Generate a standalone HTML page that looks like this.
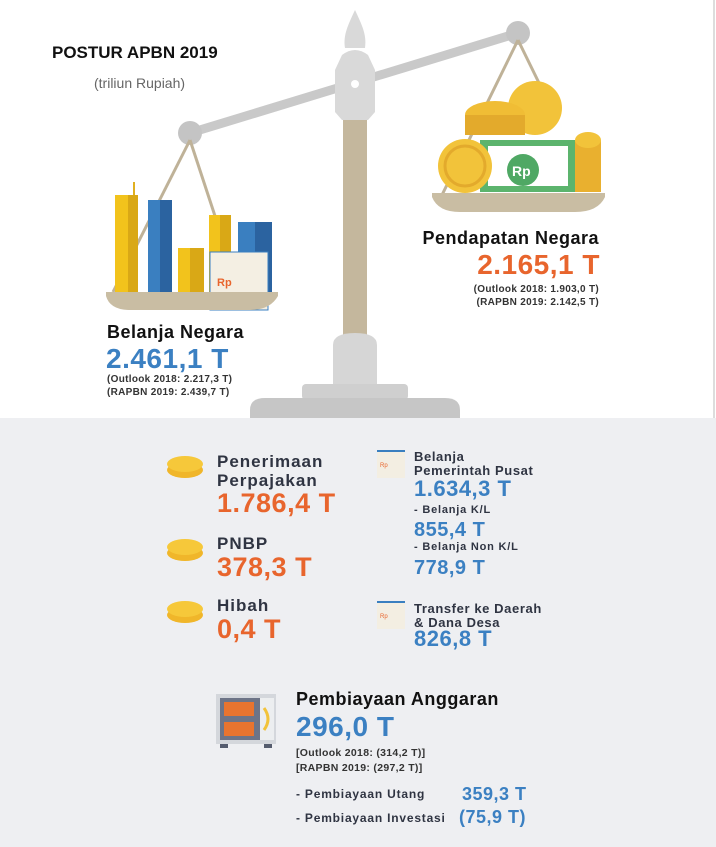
<!DOCTYPE html>
<html><head><meta charset="utf-8"><style>
body{margin:0;width:716px;height:847px;position:relative;overflow:hidden;background:#fff;font-family:"Liberation Sans",sans-serif}
.a{position:absolute;white-space:nowrap;line-height:1}
.b{font-weight:bold}
.blue{color:#3b80c2}.or{color:#e8652d}.dk{color:#2f3442}
</style></head><body>
<div class="a" style="left:0;top:418px;width:716px;height:429px;background:#eeeff2"></div>
<div class="a" style="left:713px;top:0;width:2px;height:418px;background:#ddd"></div>
<svg class="a" style="left:0;top:0" width="716" height="420">
 <!-- beam -->
 <line x1="190" y1="133" x2="518" y2="33" stroke="#c9c9c9" stroke-width="9"/>
 <circle cx="190" cy="133" r="12" fill="#c4c4c4"/>
 <circle cx="518" cy="33" r="12" fill="#c4c4c4"/>
 <!-- strings -->
 <line x1="190" y1="140" x2="113" y2="292" stroke="#bfb298" stroke-width="3"/>
 <line x1="190" y1="140" x2="240" y2="292" stroke="#bfb298" stroke-width="3"/>
 <line x1="518" y1="40" x2="442" y2="195" stroke="#bfb298" stroke-width="3"/>
 <line x1="518" y1="40" x2="540" y2="85" stroke="#bfb298" stroke-width="3"/>
 <!-- pole -->
 <rect x="343" y="115" width="24" height="230" fill="#c4b79d"/>
 <path d="M355 10 C348 25 343 35 345 48 L365 48 C367 35 362 25 355 10Z" fill="#d9d9d9"/>
 <path d="M342 55 Q355 45 368 55 L375 70 L375 112 L368 120 L342 120 L335 112 L335 70Z" fill="#d9d9d9"/>
 <circle cx="355" cy="84" r="4" fill="#fff"/>
 <path d="M333 345 Q333 333 355 333 Q377 333 377 345 L377 388 L333 388Z" fill="#d6d6d6"/>
 <rect x="302" y="384" width="106" height="16" rx="4" fill="#cfcfcf"/>
 <path d="M250 418 L250 410 Q250 398 265 398 L445 398 Q460 398 460 410 L460 418Z" fill="#c6c6c6"/>
 <!-- left buildings -->
 <rect x="115" y="195" width="22" height="97" fill="#f2c31c"/><rect x="128" y="195" width="10" height="97" fill="#d9a816"/>
 <line x1="134" y1="182" x2="134" y2="195" stroke="#e0b020" stroke-width="2"/>
 <rect x="148" y="200" width="24" height="92" fill="#3a7fc0"/><rect x="160" y="200" width="12" height="92" fill="#2b63a0"/>
 <rect x="178" y="248" width="26" height="44" fill="#f2c31c"/><rect x="190" y="248" width="14" height="44" fill="#d9a816"/>
 <rect x="209" y="215" width="22" height="77" fill="#f2c31c"/><rect x="220" y="215" width="11" height="77" fill="#d9a816"/>
 <rect x="238" y="222" width="34" height="70" fill="#3a7fc0"/><rect x="255" y="222" width="17" height="70" fill="#2b63a0"/>
 <rect x="210" y="252" width="58" height="58" fill="#f4efe3" stroke="#3a7fc0" stroke-width="1"/>
 <text x="217" y="286" font-family="Liberation Sans" font-weight="bold" font-size="11" fill="#e8652d">Rp</text>
 <path d="M106 292 L278 292 L278 296 Q270 310 250 310 L130 310 Q110 310 106 296Z" fill="#c9bda3"/>
 <!-- right coins -->
 <rect x="480" y="140" width="96" height="52" fill="#5cb46d"/><rect x="488" y="146" width="80" height="40" fill="#fff"/>
 <circle cx="523" cy="170" r="16" fill="#4fa864"/>
 <text x="512" y="176" font-family="Liberation Sans" font-weight="bold" font-size="14" fill="#fff">Rp</text>
 <circle cx="535" cy="108" r="27" fill="#f2c33a"/><ellipse cx="495" cy="115" rx="30" ry="14" fill="#f0bd35"/>
 <rect x="465" y="115" width="60" height="20" fill="#e3aa2c"/>
 <rect x="575" y="140" width="26" height="52" fill="#e9b02f"/><ellipse cx="588" cy="140" rx="13" ry="8" fill="#f2c33a"/>
 <circle cx="465" cy="166" r="27" fill="#f2c33a"/><circle cx="465" cy="166" r="20" fill="none" stroke="#e3aa2c" stroke-width="3"/>
 <path d="M432 193 L605 193 L605 197 Q598 212 575 212 L460 212 Q438 212 432 197Z" fill="#c9bda3"/>
</svg>
<div class="a b" style="left:52px;top:44px;font-size:17px;color:#111">POSTUR APBN 2019</div>
<div class="a" style="left:94px;top:76px;font-size:14px;color:#666">(triliun Rupiah)</div>
<div class="a b" style="left:107px;top:323px;font-size:18px;color:#111;letter-spacing:.5px">Belanja Negara</div>
<div class="a b blue" style="left:106px;top:345px;font-size:28px;letter-spacing:.5px">2.461,1 T</div>
<div class="a b" style="left:107px;top:373px;font-size:10px;color:#333;line-height:13px;letter-spacing:.3px">(Outlook 2018: 2.217,3 T)<br>(RAPBN 2019: 2.439,7 T)</div>
<div class="a b" style="right:117px;top:229px;font-size:18px;color:#111;letter-spacing:.5px">Pendapatan Negara</div>
<div class="a b or" style="right:116px;top:251px;font-size:28px;letter-spacing:.5px">2.165,1 T</div>
<div class="a b" style="right:117px;top:283px;font-size:10px;color:#333;line-height:13px;text-align:right;letter-spacing:.3px">(Outlook 2018: 1.903,0 T)<br>(RAPBN 2019: 2.142,5 T)</div>
<!-- coins -->
<svg class="a" style="left:165px;top:450px" width="42" height="200">
 <g fill="#f0b62a"><ellipse cx="20" cy="20" rx="18" ry="8"/><ellipse cx="20" cy="14" rx="18" ry="8" fill="#f6c83a"/>
 <ellipse cx="20" cy="103" rx="18" ry="8"/><ellipse cx="20" cy="97" rx="18" ry="8" fill="#f6c83a"/>
 <ellipse cx="20" cy="165" rx="18" ry="8"/><ellipse cx="20" cy="159" rx="18" ry="8" fill="#f6c83a"/></g>
</svg>
<div class="a b dk" style="left:217px;top:452px;font-size:17px;line-height:19px;letter-spacing:1px">Penerimaan<br>Perpajakan</div>
<div class="a b or" style="left:217px;top:490px;font-size:27px;letter-spacing:.5px">1.786,4 T</div>
<div class="a b dk" style="left:217px;top:535px;font-size:17px;letter-spacing:1px">PNBP</div>
<div class="a b or" style="left:217px;top:554px;font-size:27px;letter-spacing:.5px">378,3 T</div>
<div class="a b dk" style="left:217px;top:597px;font-size:17px;letter-spacing:1px">Hibah</div>
<div class="a b or" style="left:217px;top:616px;font-size:27px;letter-spacing:.5px">0,4 T</div>
<svg class="a" style="left:375px;top:448px" width="32" height="182">
 <rect x="2" y="2" width="28" height="28" fill="#f3eee2"/><rect x="2" y="2" width="28" height="2" fill="#3a7fc0"/>
 <text x="5" y="19" font-size="6" fill="#e8652d" font-family="Liberation Sans">Rp</text>
 <rect x="2" y="153" width="28" height="28" fill="#f3eee2"/><rect x="2" y="153" width="28" height="2" fill="#3a7fc0"/>
 <text x="5" y="170" font-size="6" fill="#e8652d" font-family="Liberation Sans">Rp</text>
</svg>
<div class="a b dk" style="left:414px;top:450px;font-size:13px;line-height:14px;letter-spacing:.6px">Belanja<br>Pemerintah Pusat</div>
<div class="a b blue" style="left:414px;top:478px;font-size:22px;letter-spacing:.5px">1.634,3 T</div>
<div class="a b dk" style="left:414px;top:505px;font-size:11px;letter-spacing:.8px">- Belanja K/L</div>
<div class="a b blue" style="left:414px;top:520px;font-size:20px;letter-spacing:.5px">855,4 T</div>
<div class="a b dk" style="left:414px;top:542px;font-size:11px;letter-spacing:.8px">- Belanja Non K/L</div>
<div class="a b blue" style="left:414px;top:558px;font-size:20px;letter-spacing:.5px">778,9 T</div>
<div class="a b dk" style="left:414px;top:602px;font-size:13px;line-height:14px;letter-spacing:.6px">Transfer ke Daerah<br>&amp; Dana Desa</div>
<div class="a b blue" style="left:414px;top:628px;font-size:22px;letter-spacing:.5px">826,8 T</div>
<!-- safe -->
<svg class="a" style="left:214px;top:692px" width="66" height="58">
 <rect x="2" y="2" width="60" height="50" fill="#d4d7dc"/><rect x="6" y="6" width="40" height="42" fill="#6d7487"/>
 <rect x="10" y="10" width="30" height="14" fill="#e8742f"/><rect x="10" y="30" width="30" height="14" fill="#e8742f"/>
 <rect x="46" y="6" width="14" height="42" fill="#eceef0"/><path d="M50 16 Q58 27 50 38" stroke="#f2c33a" stroke-width="3" fill="none"/>
 <rect x="6" y="52" width="8" height="4" fill="#555c6e"/><rect x="50" y="52" width="8" height="4" fill="#555c6e"/>
</svg>
<div class="a b" style="left:296px;top:690px;font-size:18px;color:#111;letter-spacing:.5px">Pembiayaan Anggaran</div>
<div class="a b blue" style="left:296px;top:713px;font-size:28px;letter-spacing:.5px">296,0 T</div>
<div class="a b" style="left:296px;top:746px;font-size:10.5px;color:#333;line-height:15px;letter-spacing:.3px">[Outlook 2018: (314,2 T)]<br>[RAPBN 2019: (297,2 T)]</div>
<div class="a b dk" style="left:296px;top:788px;font-size:12px;letter-spacing:.8px">- Pembiayaan Utang</div>
<div class="a b blue" style="left:462px;top:785px;font-size:18px;letter-spacing:.5px">359,3 T</div>
<div class="a b dk" style="left:296px;top:812px;font-size:12px;letter-spacing:.8px">- Pembiayaan Investasi</div>
<div class="a b blue" style="left:459px;top:808px;font-size:18px;letter-spacing:.5px">(75,9 T)</div>
</body></html>
